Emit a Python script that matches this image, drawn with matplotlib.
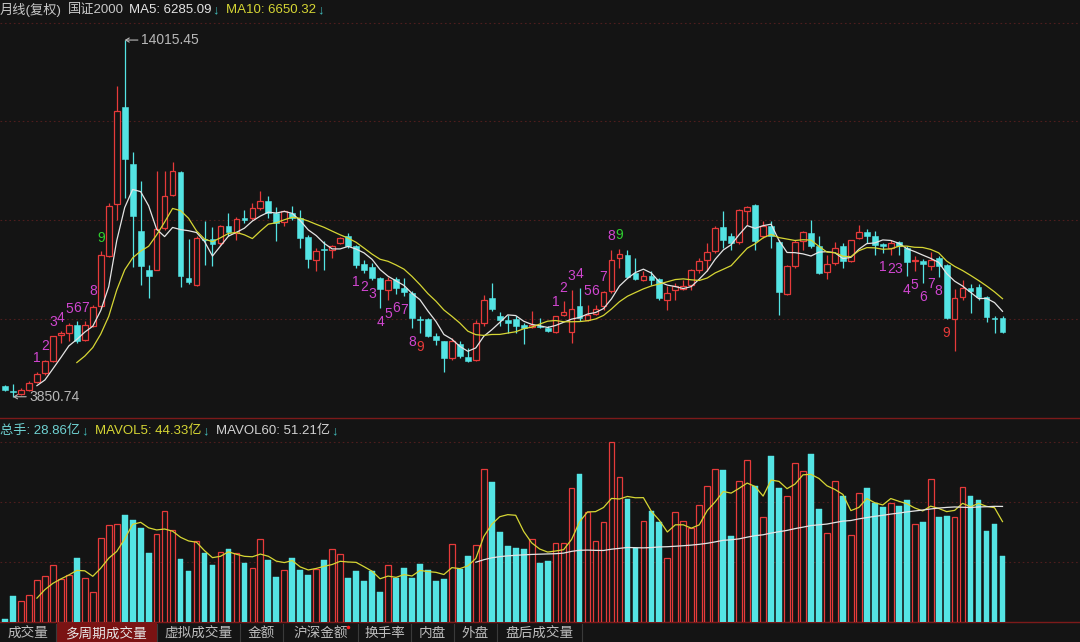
import numpy as np
import pandas as pd
import matplotlib
matplotlib.use("Agg")
import matplotlib.pyplot as plt
from matplotlib.patches import Rectangle

# ---------------- data ----------------
open_ = [4165, 4022, 3937, 4051, 4279, 4527, 4857, 5618, 5675, 5903,
         5456, 5875, 6425, 7870, 9352, 12108, 10492, 8582, 7471, 7471,
         8668, 9608, 10244, 7234, 7043, 8346, 8346, 8232, 8705, 8517,
         8944, 8944, 9229, 9417, 9087, 8819, 9087, 8944, 8403, 7736,
         8061, 8021, 8232, 8420, 8155, 7642, 7536, 7234, 6901, 7206,
         6949, 6807, 6066, 6066, 5570, 5427, 4954, 5353, 4983, 4886,
         5952, 6664, 6140, 6046, 6066, 5903, 5846, 5866, 5809, 5684,
         6168, 5684, 6425, 6026, 6217, 6425, 6852, 7804, 7898, 7377,
         7186, 7300, 7206, 6616, 6901, 6921, 7043, 7471, 7756, 7992,
         8676, 8440, 8249, 9132, 9323, 8420, 8725, 8269, 6787, 7565,
         8277, 8517, 8135, 7394, 7662, 8135, 7707, 8374, 8534, 8440,
         8203, 8089, 8249, 8089, 7707, 7707, 7565, 7804, 7613, 6066,
         6693, 6949, 6978, 6693, 6094, 6094]
high = [4193, 4222, 4108, 4287, 4564, 4906, 5590, 5712, 5960, 5997,
        5997, 6473, 7992, 9380, 12695, 14015.45, 10814, 10007, 7613, 10272,
        10272, 10529, 10270, 8354, 8420, 8847, 8696, 8753, 9087, 8973,
        9181, 9372, 9702, 9560, 9258, 9181, 9275, 9161, 8468, 8089,
        8277, 8183, 8411, 8517, 8183, 7756, 7662, 7263, 7263, 7263,
        7234, 6852, 6140, 6103, 5667, 5440, 5533, 5427, 5239, 6046,
        6758, 7092, 6254, 6188, 6140, 5952, 6282, 6094, 5875, 6160,
        6567, 6901, 6949, 6473, 6473, 6870, 8041, 8061, 8021, 7804,
        7422, 7422, 7234, 6995, 7092, 7186, 7499, 7804, 8232, 8705,
        9132, 8517, 9201, 9275, 9352, 8847, 8847, 8326, 7613, 8306,
        8562, 8876, 8440, 7898, 8249, 8232, 8326, 8753, 8631, 8562,
        8232, 8306, 8277, 8135, 7850, 7776, 7964, 7870, 7642, 6921,
        7186, 7072, 7072, 6710, 6140, 6140]
low = [4022, 3850.74, 3908, 4022, 4250, 4478, 4849, 5382, 5427, 5390,
       5427, 5846, 6388, 7841, 8896, 9523, 7556, 7043, 6673, 7451,
       8611, 9560, 6966, 7072, 6995, 7613, 7565, 8183, 8420, 8326,
       8802, 8896, 9181, 8944, 8277, 8705, 8896, 8089, 7519, 7422,
       7471, 7804, 8212, 8089, 7519, 7377, 7186, 6379, 6616, 6787,
       6710, 5809, 5667, 5561, 5333, 4544, 4906, 4963, 4829, 4857,
       5855, 6282, 5855, 5667, 5675, 5362, 5818, 5809, 5704, 5661,
       6140, 5382, 5997, 5997, 6188, 6331, 6807, 7519, 7234, 7186,
       7137, 7043, 6616, 6331, 6616, 6901, 6901, 7377, 7422, 7947,
       8089, 8041, 8212, 8753, 8041, 8374, 8089, 6188, 6758, 7519,
       8041, 8089, 7357, 7206, 7613, 7519, 7679, 8346, 8232, 7898,
       7947, 7898, 7898, 7300, 7422, 7092, 7471, 7263, 6074, 5142,
       6616, 6237, 6616, 5969, 5667, 5675]
close = [4051, 3985, 4051, 4241, 4507, 4857, 5570, 5661, 5903, 5427,
         5903, 6408, 7898, 9295, 11982, 10626, 8990, 7585, 7280, 8639,
         9580, 10292, 7280, 7120, 8383, 8306, 8212, 8705, 8534, 8924,
         8896, 9229, 9417, 9087, 8802, 9132, 8944, 8374, 7776, 7992,
         8021, 8155, 8374, 8135, 7613, 7471, 7234, 6921, 7186, 6949,
         6824, 6094, 6026, 5570, 5476, 4954, 5427, 5000, 4877, 5952,
         6616, 6351, 6046, 5952, 5855, 5809, 5903, 5846, 5712, 6140,
         6265, 6348, 6094, 6188, 6359, 6824, 7736, 7927, 7263, 7206,
         7300, 7186, 6664, 6807, 6995, 7015, 7471, 7727, 7975, 8659,
         8326, 8232, 9161, 9258, 8277, 8705, 8440, 6824, 7565, 8249,
         8534, 8135, 7377, 7633, 8089, 7707, 8306, 8534, 8440, 8183,
         8135, 8232, 8135, 7679, 7756, 7642, 7756, 7565, 6094, 6664,
         6949, 6852, 6681, 6123, 6066, 5703]
volume = [1.5, 11.4, 9.4, 11.7, 18.2, 20.1, 25.1, 19.0, 20.4, 28.2,
          19.2, 13.1, 36.7, 42.3, 43.0, 46.7, 44.8, 41.1, 30.3, 38.4,
          48.7, 40.1, 27.7, 22.3, 35.6, 30.3, 24.8, 30.6, 32.1, 30.3,
          25.8, 23.8, 36.5, 27.3, 19.7, 22.6, 28.2, 22.6, 20.7, 23.0,
          27.3, 32.1, 29.6, 19.2, 22.2, 17.8, 22.2, 13.1, 25.1, 19.4,
          23.8, 19.2, 25.2, 22.6, 17.8, 19.0, 34.3, 23.0, 28.7, 33.8,
          67.1, 61.2, 39.4, 33.2, 32.4, 31.8, 36.2, 26.0, 26.5, 34.7,
          34.7, 58.6, 64.6, 48.1, 35.3, 43.7, 78.5, 63.3, 53.7, 32.4,
          44.0, 48.5, 43.7, 28.2, 48.1, 44.0, 41.1, 51.0, 59.5, 67.1,
          66.6, 37.6, 61.5, 71.0, 59.5, 45.7, 72.6, 58.6, 55.1, 69.5,
          66.0, 73.6, 49.6, 39.1, 61.5, 55.1, 38.2, 56.6, 58.6, 52.2,
          50.3, 52.2, 50.7, 53.2, 43.0, 43.7, 62.7, 45.7, 46.2, 45.7,
          59.2, 55.1, 53.2, 39.7, 42.7, 28.86]

td_up_starts = [4, 69]      # nine-count sequences marked above highs
td_down_starts = [44, 110]  # nine-count sequences marked below lows

header_parts = ["月线(复权)", "国证2000", "MA5: 6285.09", "↓", "MA10: 6650.32", "↓"]
vol_header_parts = ["总手: 28.86亿", "↓", "MAVOL5: 44.33亿", "↓", "MAVOL60: 51.21亿", "↓"]
tab_names = ["成交量", "多周期成交量", "虚拟成交量", "金额", "沪深金额",
             "换手率", "内盘", "外盘", "盘后成交量"]
active_tab = 1

# ---------------- style ----------------
BG = "#141414"
RED = "#e63a3a"
CYAN = "#54e4e4"
WHITE = "#e4e4e4"
YELLOW = "#d6d634"
GREY = "#b8b8b8"
GRID = "#4e1e1e"
SEP = "#7c1a1a"
MAGENTA = "#d046d0"
GREEN = "#2fcf2f"
TEAL = "#3fb6b6"
FONT = ["Liberation Sans", "Noto Sans CJK SC", "DejaVu Sans"]
CJK = ["Noto Sans CJK SC", "DejaVu Sans"]

W, H = 1080, 642
STEP = 7.98
X0 = 5.0

fig = plt.figure(figsize=(W / 100, H / 100), dpi=100, facecolor=BG)

ov = fig.add_axes([0, 0, 1, 1], zorder=0)
ov.set_xlim(0, W)
ov.set_ylim(H, 0)
ov.axis("off")

n = len(close)
xs = np.arange(n)
o = np.array(open_, float)
h = np.array(high, float)
l = np.array(low, float)
c = np.array(close, float)
v = np.array(volume, float)

xlim = ((0 - X0) / STEP, (W - X0) / STEP)

# ---- main price panel ----
ax = fig.add_axes([0, (H - 418) / H, 1, 396 / H], zorder=1)
ax.set_facecolor("none")
ax.axis("off")
ax.set_xlim(*xlim)
ax.set_ylim(3245, 14530)

for frac in (0.25, 0.5, 0.75, 0.997):
    ax.axhline(3245 + frac * (14530 - 3245), color=GRID, lw=0.8,
               ls=(0, (1.5, 2.5)), zorder=0)

bw = 0.72
for i in xs:
    up = c[i] >= o[i]
    top, bot = max(o[i], c[i]), min(o[i], c[i])
    hgt = max(top - bot, 22)
    if up:
        ax.vlines(i, top, h[i], color=RED, lw=0.9, zorder=2)
        ax.vlines(i, l[i], bot, color=RED, lw=0.9, zorder=2)
        ax.add_patch(Rectangle((i - bw / 2, bot), bw, hgt, facecolor=BG,
                               edgecolor=RED, lw=0.9, zorder=2))
    else:
        ax.vlines(i, l[i], h[i], color=CYAN, lw=0.9, zorder=2)
        ax.add_patch(Rectangle((i - bw / 2, bot), bw, hgt, facecolor=CYAN,
                               edgecolor=CYAN, lw=0.4, zorder=2))

cs = pd.Series(c)
ax.plot(xs, cs.rolling(5).mean(), color=WHITE, lw=0.9, zorder=4)
ax.plot(xs, cs.rolling(10).mean(), color=YELLOW, lw=0.9, zorder=4)

for s in td_up_starts:
    for k in range(9):
        i = s + k
        ax.annotate(str(k + 1), xy=(i, h[i]), xytext=(0, 10), textcoords="offset points",
                    ha="center", va="center", fontsize=10, family=FONT,
                    color=GREEN if k == 8 else MAGENTA, zorder=5)
for s in td_down_starts:
    for k in range(9):
        i = s + k
        ax.annotate(str(k + 1), xy=(i, l[i]), xytext=(0, -10), textcoords="offset points",
                    ha="center", va="center", fontsize=10, family=FONT,
                    color=RED if k == 8 else MAGENTA, zorder=5)

imax = int(np.argmax(h))
imin = int(np.argmin(l))
for idx, val in ((imax, h[imax]), (imin, l[imin])):
    ax.annotate(f"{val:.2f}", xy=(idx, val), xytext=(11.5, 0), textcoords="offset points",
                ha="left", va="center", fontsize=10, family=FONT, color=GREY,
                arrowprops=dict(arrowstyle="->,head_length=0.25,head_width=0.15",
                                color=GREY, lw=0.8, shrinkA=0, shrinkB=0), zorder=5)

# ---- volume panel ----
axv = fig.add_axes([0, (H - 622) / H, 1, 204 / H], zorder=1)
axv.set_facecolor("none")
axv.axis("off")
axv.set_xlim(*xlim)
axv.set_ylim(0, 89.2)
vmax = v.max()
for k in (1, 2, 3):
    axv.axhline(vmax * k / 3, color=GRID, lw=0.8, ls=(0, (1.5, 2.5)), zorder=0)

up_mask = c >= o
axv.bar(xs[up_mask], v[up_mask], width=bw, facecolor=BG, edgecolor=RED, lw=0.9, zorder=2)
axv.bar(xs[~up_mask], v[~up_mask], width=bw, facecolor=CYAN, edgecolor=CYAN, lw=0.3, zorder=2)
vs = pd.Series(v)
axv.plot(xs, vs.rolling(5).mean(), color=YELLOW, lw=0.9, zorder=4)
axv.plot(xs, vs.rolling(60).mean(), color=WHITE, lw=0.9, zorder=4)

# ---- frame lines ----
ov.axhline(418, color=SEP, lw=1.0)
ov.axhline(622, color=SEP, lw=1.0)

# ---- header texts (placed one after another) ----
renderer = fig.canvas.get_renderer()


def seq_text(x, y, parts, colors, gaps, size):
    for s, col, gap in zip(parts, colors, gaps):
        x += gap
        t = ov.text(x, y, s, color=col, fontsize=size, family=FONT,
                    ha="left", va="center")
        x += t.get_window_extent(renderer=renderer).width


seq_text(0, 10, header_parts, ["#c8c8c8", "#c8c8c8", WHITE, TEAL, YELLOW, TEAL],
         [0, 6, 5, 1, 7, 1], 9.5)
seq_text(0, 431, vol_header_parts, ["#6fd2d2", TEAL, YELLOW, TEAL, "#d2d2d2", TEAL],
         [0, 1, 7, 1, 7, 1], 9.5)

# ---- tab bar ----
edges = [0, 56, 157, 240, 283, 358, 411, 454, 497, 582]
ov.add_patch(Rectangle((edges[active_tab] + 1, 623), edges[active_tab + 1] - edges[active_tab] - 1,
                       19, facecolor="#7a1313", edgecolor="none", zorder=1))
for k, name in enumerate(tab_names):
    cx = (edges[k] + edges[k + 1]) / 2
    ov.text(cx, 633, name, ha="center", va="center", fontsize=9.8, family=CJK,
            color="#e6e6e6" if k == active_tab else "#bdbdbd", zorder=2)
for e in edges[1:]:
    ov.plot([e, e], [624, 642], color="#3a3a3a", lw=0.8)
ov.plot([348], [626.5], marker="o", ms=2.6, color="#ff2020", mec="none")

fig.savefig("out.png", dpi=100, facecolor=BG)
